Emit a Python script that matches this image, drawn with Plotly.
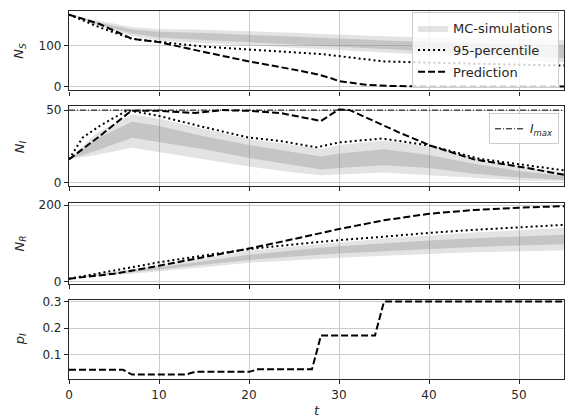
import plotly.graph_objects as go
from plotly.subplots import make_subplots

# ---------------- data ----------------
T = [0, 3, 7, 10, 15, 20, 25, 28, 30, 35, 40, 45, 50, 55]

# MC-simulation spread, N_S
S_out_lo = [176, 150, 124, 113, 107, 101, 96, 93, 90, 83, 77, 71, 65, 60]
S_out_hi = [176, 162, 146, 141, 139, 136, 132, 129, 127, 123, 120, 118, 117, 115]
S_core_lo = [176, 154, 130, 120, 114, 109, 104, 101, 98, 92, 86, 80, 75, 70]
S_core_hi = [176, 158, 140, 134, 131, 127, 123, 120, 118, 113, 109, 106, 103, 100]

# MC-simulation spread, N_I
I_out_lo = [16, 19, 24, 21, 16, 11, 7, 5, 5.5, 7, 5, 3, 1.5, 1]
I_out_hi = [16, 34, 47, 44, 37, 30, 26, 23, 26, 29, 25, 17, 11, 7]
I_core_lo = [16, 22, 31, 28, 23, 17, 12, 9, 10, 12, 10, 6, 3.5, 2]
I_core_hi = [16, 30, 42, 39, 32, 26, 21, 18, 20, 23, 19, 13, 8, 4.5]

# MC-simulation spread, N_R
R_out_lo = [7, 14, 20, 26, 37, 49, 56, 60, 62, 67, 72, 76, 79, 81]
R_out_hi = [7, 20, 32, 42, 60, 80, 92, 98, 102, 112, 120, 128, 134, 140]
R_core_lo = [7, 16, 24, 31, 43, 56, 65, 70, 73, 79, 85, 90, 94, 97]
R_core_hi = [7, 18, 28, 37, 53, 70, 82, 88, 92, 100, 107, 113, 118, 122]

# 95-percentile and prediction, N_S
S_p95_t = [0, 3.4, 7, 10, 15, 20, 25, 28, 30, 33, 35, 40, 45, 50, 55]
S_p95 = [176, 145, 117, 109.5, 98, 91, 85, 80, 75, 67, 62, 59, 56, 54, 52]
S_pred_t = [0, 3.4, 7, 10, 15, 20, 25, 27.5, 29, 30, 33, 36, 40, 45, 50, 55]
S_pred = [176, 153, 117, 109, 85, 62, 42, 31, 22, 14, 5, 2, 1, 1, 1, 1]

# 95-percentile and prediction, N_I
I_p95_t = [0, 1.5, 3.4, 6.5, 10, 14.5, 20, 23.4, 27.5, 30, 34.8, 40.2, 45.6, 50.4, 55]
I_p95 = [16, 31, 39, 50, 46, 39, 31, 28.8, 24.3, 27.7, 30.4, 25.4, 16.4, 12.3, 8.4]
I_pred_t = [0, 3.4, 6.9, 10, 14, 17, 20, 23.5, 28, 30, 31.2, 36.7, 40.2, 45, 50.4, 55]
I_pred = [16, 32, 49.5, 49.5, 48, 50, 49.5, 48, 42.5, 50.5, 50, 34.5, 25.4, 16, 10.6, 5.4]
I_max = 50

# 95-percentile and prediction, N_R
R_t = [0, 5, 10, 15, 20, 25, 30, 35, 40, 45, 50, 55]
R_p95 = [7, 28, 50, 68, 84.5, 97, 108, 117, 127, 135, 142, 148]
R_pred = [7, 20, 41, 63, 86, 111, 137, 160, 177, 187, 193, 197]

# infection probability p_I
P_t = [0, 6, 7, 13, 14, 20, 21, 27, 28, 34, 35, 55]
P_pred = [0.042, 0.042, 0.024, 0.024, 0.034, 0.034, 0.044, 0.044, 0.172, 0.172, 0.3, 0.3]

# axis ticks
X_TICKS = [0, 10, 20, 30, 40, 50]
Y_TICKS = [[0, 100], [0, 50], [0, 200], [0.1, 0.2, 0.3]]
Y_RANGES = [[-8.8, 184.8], [-2.5, 52.5], [-6, 205], [0.007, 0.308]]
Y_LABELS = ["<i>N<sub>S</sub></i>", "<i>N<sub>I</sub></i>", "<i>N<sub>R</sub></i>", "<i>p<sub>I</sub></i>"]

# ---------------- figure ----------------
FONT = "DejaVu Sans"
INK = "#262626"
OUTER = "rgba(128,128,128,0.22)"
CORE = "rgba(128,128,128,0.30)"
DOT = "2px,3px"
DASH = "7px,3px"

fig = make_subplots(rows=4, cols=1, shared_xaxes=True)


def band(row, lo, hi, color, name=None, show=False, group=None):
    fig.add_trace(go.Scatter(x=T, y=lo, mode="lines", line=dict(width=0),
                             hoverinfo="skip", showlegend=False, legendgroup=group),
                  row=row, col=1)
    fig.add_trace(go.Scatter(x=T, y=hi, mode="lines", line=dict(width=0),
                             fill="tonexty", fillcolor=color, name=name,
                             showlegend=show, legendgroup=group),
                  row=row, col=1)


band(1, S_out_lo, S_out_hi, OUTER, "MC-simulations", True, "g1")
band(1, S_core_lo, S_core_hi, CORE, group="g1")
band(2, I_out_lo, I_out_hi, OUTER, group="g1")
band(2, I_core_lo, I_core_hi, CORE, group="g1")
band(3, R_out_lo, R_out_hi, OUTER, group="g1")
band(3, R_core_lo, R_core_hi, CORE, group="g1")

# panel 1
fig.add_trace(go.Scatter(x=S_p95_t, y=S_p95, mode="lines", name="95-percentile",
                         legendgroup="g2", line=dict(color="black", width=2, dash=DOT)), row=1, col=1)
fig.add_trace(go.Scatter(x=S_pred_t, y=S_pred, mode="lines", name="Prediction",
                         legendgroup="g3", line=dict(color="black", width=2, dash=DASH)), row=1, col=1)
# panel 2
fig.add_trace(go.Scatter(x=[0, 55], y=[I_max, I_max], mode="lines", name="<i>I<sub>max</sub></i>",
                         legend="legend2", line=dict(color="black", width=1, dash="6px,2px,1px,2px")),
              row=2, col=1)
fig.add_trace(go.Scatter(x=I_p95_t, y=I_p95, mode="lines", showlegend=False,
                         line=dict(color="black", width=2, dash=DOT)), row=2, col=1)
fig.add_trace(go.Scatter(x=I_pred_t, y=I_pred, mode="lines", showlegend=False,
                         line=dict(color="black", width=2, dash=DASH)), row=2, col=1)
# panel 3
fig.add_trace(go.Scatter(x=R_t, y=R_p95, mode="lines", showlegend=False,
                         line=dict(color="black", width=2, dash=DOT)), row=3, col=1)
fig.add_trace(go.Scatter(x=R_t, y=R_pred, mode="lines", showlegend=False,
                         line=dict(color="black", width=2, dash=DASH)), row=3, col=1)
# panel 4
fig.add_trace(go.Scatter(x=P_t, y=P_pred, mode="lines", showlegend=False,
                         line=dict(color="black", width=2, dash=DASH)), row=4, col=1)

domains = [[0.784, 1.0], [0.524, 0.7405], [0.259, 0.478], [0.0, 0.216]]
axis_common = dict(showline=True, linecolor=INK, linewidth=1.25, mirror=True,
                   ticks="outside", ticklen=4, tickwidth=1, tickcolor=INK,
                   showgrid=True, gridcolor="#cccccc", gridwidth=1, zeroline=False,
                   tickfont=dict(family=FONT, size=12, color=INK))
for i in range(4):
    n = "" if i == 0 else str(i + 1)
    fig.layout["xaxis" + n].update(range=[0, 55], tickvals=X_TICKS, **axis_common)
    fig.layout["yaxis" + n].update(range=Y_RANGES[i], tickvals=Y_TICKS[i],
                                   domain=domains[i], **axis_common)
    mid = sum(domains[i]) / 2
    fig.add_annotation(text=Y_LABELS[i], xref="paper", yref="paper", x=-0.099, y=mid,
                       textangle=-90, showarrow=False, xanchor="center", yanchor="middle",
                       font=dict(family=FONT, size=13, color=INK))

fig.layout.xaxis4.update(showticklabels=True)
fig.add_annotation(text="<i>t</i>", xref="paper", yref="paper", x=0.5, y=-0.085,
                   showarrow=False, xanchor="center", yanchor="middle",
                   font=dict(family=FONT, size=13, color=INK))

fig.update_layout(
    width=571, height=420,
    margin=dict(l=69, r=6, t=9, b=41),
    plot_bgcolor="white", paper_bgcolor="white",
    font=dict(family=FONT, size=12, color=INK),
    legend=dict(x=0.99, y=0.997, xanchor="right", yanchor="top",
                bgcolor="rgba(255,255,255,0.8)", bordercolor="#cccccc", borderwidth=1,
                traceorder="grouped", tracegroupgap=2, itemwidth=30,
                font=dict(family=FONT, size=13, color=INK)),
    legend2=dict(x=0.99, y=0.722, xanchor="right", yanchor="top",
                 bgcolor="rgba(255,255,255,0.8)", bordercolor="#cccccc", borderwidth=1,
                 font=dict(family=FONT, size=12, color=INK)),
)

fig.write_html("out.html")
